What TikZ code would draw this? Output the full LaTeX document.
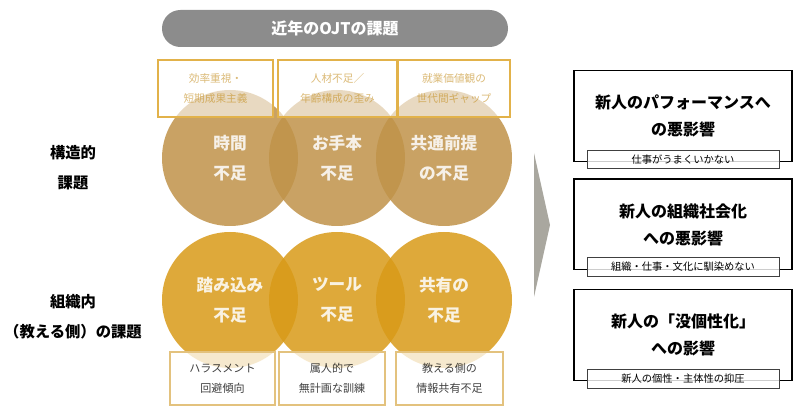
\documentclass[tikz,border=0pt]{standalone}
\usepackage{fontspec}
\setmainfont{Noto Sans CJK JP}
\usetikzlibrary{positioning}
\definecolor{barGray}{HTML}{8C8C8C}
\definecolor{tanCirc}{HTML}{BF9249}
\definecolor{goldCirc}{HTML}{D89A18}
\definecolor{goldLine}{HTML}{E2B24A}
\definecolor{goldText}{HTML}{C38C1C}
\definecolor{paleLine}{HTML}{E3C27E}
\definecolor{arrowGray}{HTML}{A9A79F}

\begin{document}
\begin{tikzpicture}[x=0.75pt,y=-0.75pt]
    \tikzstyle{topcirc}=[circle, minimum size=102pt, inner sep=0pt, fill=tanCirc, fill opacity=0.85, text=white, align=center, font=\fontsize{12.5}{22.5}\selectfont\bfseries]
    \tikzstyle{lowcirc}=[topcirc, fill=goldCirc]
    \tikzstyle{topbox}=[rectangle, draw=goldLine, line width=0.8pt, fill=white, fill opacity=0.6, text=goldText, align=center, minimum height=42.75pt, inner sep=0pt, font=\fontsize{8}{15}\selectfont]
    \tikzstyle{lowbox}=[topbox, draw=paleLine, text=black, minimum height=39.75pt, fill opacity=0.75, font=\fontsize{8.3}{15}\selectfont]
    \tikzstyle{effectbox}=[rectangle, draw=black, line width=1pt, minimum width=163.5pt, minimum height=68pt, align=center, font=\fontsize{12}{20.25}\selectfont\bfseries]
    \tikzstyle{subbar}=[rectangle, draw=black!75, line width=0.6pt, fill=white, fill opacity=0.8, text opacity=1, minimum width=144pt, minimum height=14pt, inner sep=0pt, font=\fontsize{7.7}{9}\selectfont]
    \tikzstyle{sidelabel}=[align=center, font=\fontsize{11.5}{22.5}\selectfont\bfseries]
    \useasboundingbox (0,0) rectangle (800,409);

    % title bar
    \node[rectangle, rounded corners=13.8pt, fill=barGray, text=white, minimum width=259.5pt, minimum height=27.75pt, font=\fontsize{12}{14}\selectfont\bfseries] (title) at (335,28.5) {近年のOJTの課題};

    % structural issues
    \node[topcirc] (time) at (230,158) {時間\\不足};
    \node[topcirc] (model) at (337,158) {お手本\\不足};
    \node[topcirc] (premise) at (444,158) {共通前提\\の不足};
    \node[topbox, minimum width=86.25pt] (efficiency) at (215.5,88.5) {効率重視・\\短期成果主義};
    \node[topbox, minimum width=89.25pt] (staffing) at (337.5,88.5) {人材不足／\\年齢構成の歪み};
    \node[topbox, minimum width=84pt] (values) at (454,88.5) {就業価値観の\\世代間ギャップ};

    % organisational issues
    \node[lowcirc] (engage) at (230,300) {踏み込み\\不足};
    \node[lowcirc] (tools) at (337,300) {ツール\\不足};
    \node[lowcirc] (share) at (444,300) {共有の\\不足};
    \node[lowbox, minimum width=78.75pt] (harass) at (222.5,378.5) {ハラスメント\\回避傾向};
    \node[lowbox, minimum width=79.5pt] (adhoc) at (332,378.5) {属人的で\\無計画な訓練};
    \node[lowbox, minimum width=80.25pt] (info) at (449.5,378.5) {教える側の\\情報共有不足};

    % row labels
    \node[sidelabel] (struct) at (73,168) {構造的\\課題};
    \node[sidelabel] (org) at (73,317) {組織内\\（教える側）の課題};

    % arrow
    \fill[arrowGray] (534,153) -- (550,225) -- (534,297) -- cycle;

    % effects
    \node[effectbox] (perf) at (683,116) {新人のパフォーマンスへ\\の悪影響};
    \node[effectbox] (social) at (683,224.5) {新人の組織社会化\\への悪影響};
    \node[effectbox] (indiv) at (683,335) {新人の「没個性化」\\への影響};
    \node[subbar] (perfsub) at (683,159.5) {仕事がうまくいかない};
    \node[subbar] (socialsub) at (683,267) {組織・仕事・文化に馴染めない};
    \node[subbar] (indivsub) at (683,379) {新人の個性・主体性の抑圧};
\end{tikzpicture}
\end{document}
